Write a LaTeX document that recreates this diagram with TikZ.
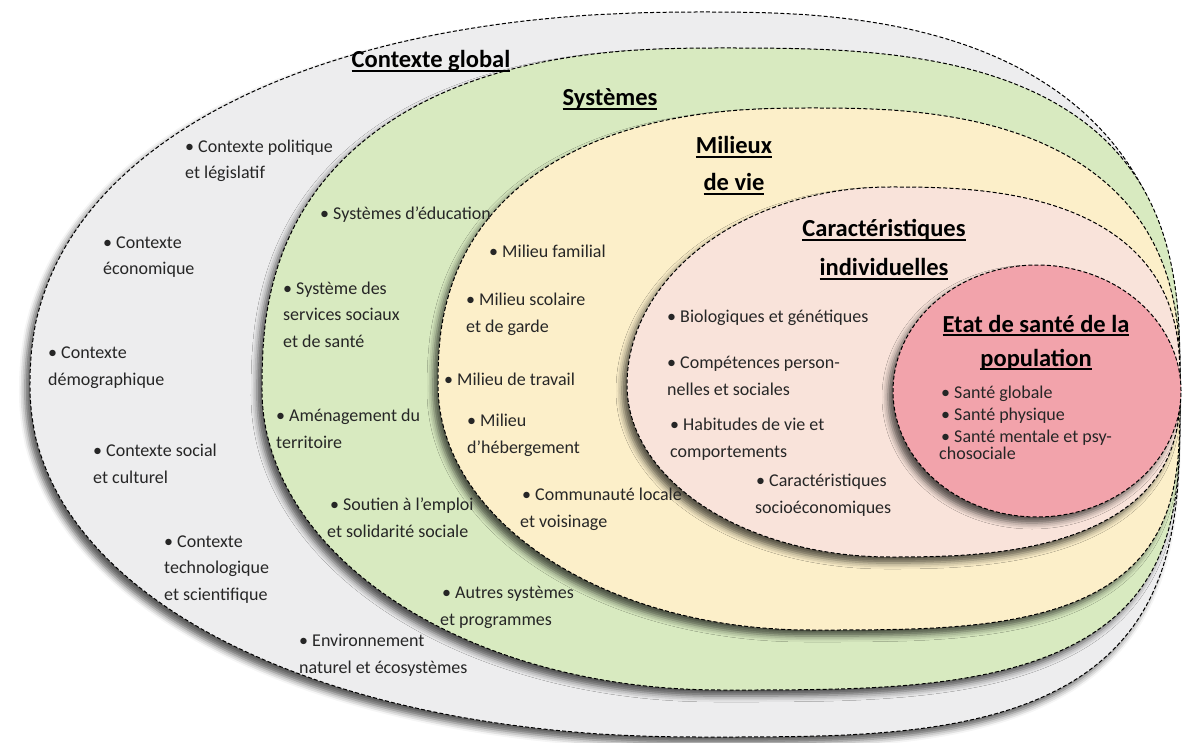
\documentclass[tikz,border=0pt]{standalone}
\usepackage{fontspec}
\setmainfont{Carlito}
\usetikzlibrary{shadows.blur}

\definecolor{ringgray}{HTML}{EDEDEE}
\definecolor{ringgreen}{HTML}{D8EAC0}
\definecolor{ringyellow}{HTML}{FCEFC9}
\definecolor{ringpink}{HTML}{F9E3DA}
\definecolor{ringred}{HTML}{F2A3AB}
\definecolor{bodytext}{HTML}{262626}

% underline drawn at a fixed depth below the baseline
\newcommand\titleul[1]{\setbox0=\hbox{#1}\rlap{\rule[-4pt]{\wd0}{1.6pt}}\box0}

% exponents of the four quarters: top right / top left / bottom left / bottom right
\def\zoneexps#1/#2/#3/#4\relax{\def\eTR{#1}\def\eTL{#2}\def\eBL{#3}\def\eBR{#4}}
% closed rounded zone built from four super-elliptic quarters
% #1 style, #2 cx, #3 cy, #4 left radius, #5 right radius, #6 top radius, #7 bottom radius, #8 exponents
\newcommand\zone[8]{%
  \zoneexps#8\relax
  \draw[zone,#1]
    plot[domain=0.01:89.99, samples=70, variable=\t]
      ({#2+#5*cos(\t)^(2/\eTR)}, {#3-#6*sin(\t)^(2/\eTR)})
    -- plot[domain=0.01:89.99, samples=70, variable=\t]
      ({#2-#4*sin(\t)^(2/\eTL)}, {#3-#6*cos(\t)^(2/\eTL)})
    -- plot[domain=0.01:89.99, samples=70, variable=\t]
      ({#2-#4*cos(\t)^(2/\eBL)}, {#3+#7*sin(\t)^(2/\eBL)})
    -- plot[domain=0.01:89.99, samples=70, variable=\t]
      ({#2+#5*sin(\t)^(2/\eBR)}, {#3+#7*cos(\t)^(2/\eBR)})
    -- cycle;}

\tikzset{
  zone/.style={draw=black, line width=1pt, dash pattern=on 4pt off 2.2pt, line join=round,
    blur shadow={shadow xshift=-5pt, shadow yshift=-6pt, shadow blur radius=6pt, shadow opacity=65}},
  item/.style={anchor=base west, align=left, inner sep=0pt, text=bodytext,
    font=\fontsize{18}{26.5}\selectfont},
  head/.style={anchor=base, align=center, inner sep=0pt, text=black,
    font=\bfseries\fontsize{24.5}{38}\selectfont},
}

\begin{document}
\begin{tikzpicture}[x=1pt, y=-1pt]
\useasboundingbox (0,0) rectangle (1183,743);

% nested zones, outermost first
\zone{fill=ringgray}{700}{385}{670}{480}{373}{352}{2.6/2.2/2.1/3.3}
\zone{fill=ringgreen}{720}{390}{458}{460}{342}{300}{2.9/2.45/2/3.3}
\zone{fill=ringyellow}{810}{385}{372}{370}{277}{245}{2.6/2.4/2/3.3}
\zone{fill=ringpink}{890}{385}{263}{290}{198}{172}{2.6/2/2/2.6}
\zone{fill=ringred}{1037}{391}{144}{144}{126}{126}{2/2/2/2}

% global context (anchors are the baselines of the last lines)
\node[head] (tglobal) at (431,68) {\titleul{Contexte global}};
\node[item] (g1) at (185,179) {• Contexte politique\\et législatif};
\node[item] (g2) at (103,275) {• Contexte\\économique};
\node[item] (g3) at (48,385)  {• Contexte\\démographique};
\node[item] (g4) at (93,483)  {• Contexte social\\et culturel};
\node[item] (g5) at (164,600) {• Contexte\\technologique\\et scientifique};
\node[item] (g6) at (299,673) {• Environnement\\naturel et écosystèmes};

% systems
\node[head] (tsys) at (610,106) {\titleul{Systèmes}};
\node[item] (s1) at (320,220) {• Systèmes d’éducation};
\node[item] (s2) at (283,347) {• Système des\\services sociaux\\et de santé};
\node[item] (s3) at (276,448) {• Aménagement du\\territoire};
\node[item] (s4) at (327,537) {\hspace*{3pt}• Soutien à l’emploi\\et solidarité sociale};
\node[item] (s5) at (440,625) {\hspace*{2pt}• Autres systèmes\\et programmes};

% living environments
\node[head, font=\bfseries\fontsize{24.5}{37}\selectfont] (tmil) at (734,191)
  {\titleul{Milieux}\\\titleul{de vie}};
\node[item] (m1) at (489,258) {• Milieu familial};
\node[item] (m2) at (466,332) {• Milieu scolaire\\et de garde};
\node[item] (m3) at (444,385) {• Milieu de travail};
\node[item] (m4) at (467,453) {• Milieu\\d’hébergement};
\node[item] (m5) at (520,527) {\hspace*{2pt}• Communauté locale\\et voisinage};

% individual characteristics
\node[head, font=\bfseries\fontsize{24.5}{39}\selectfont] (tind) at (884,276)
  {\titleul{Caractéristiques}\\\titleul{individuelles}};
\node[item] (i1) at (667,323) {• Biologiques et génétiques};
\node[item] (i2) at (667,395) {• Compétences person-\\nelles et sociales};
\node[item] (i3) at (670,457) {• Habitudes de vie et\\comportements};
\node[item] (i4) at (755,513) {\hspace*{1pt}• Caractéristiques\\socioéconomiques};

% population health
\node[head, font=\bfseries\fontsize{24.5}{34}\selectfont] (tsante) at (1036,366)
  {\titleul{Etat de santé de la}\\\titleul{population}};
\node[item, font=\fontsize{18}{22}\selectfont] (h1) at (941,442)
  {• Santé globale\\• Santé physique\\• Santé mentale et psy-};
\node[item] (h2) at (939,459) {chosociale};

\end{tikzpicture}
\end{document}
